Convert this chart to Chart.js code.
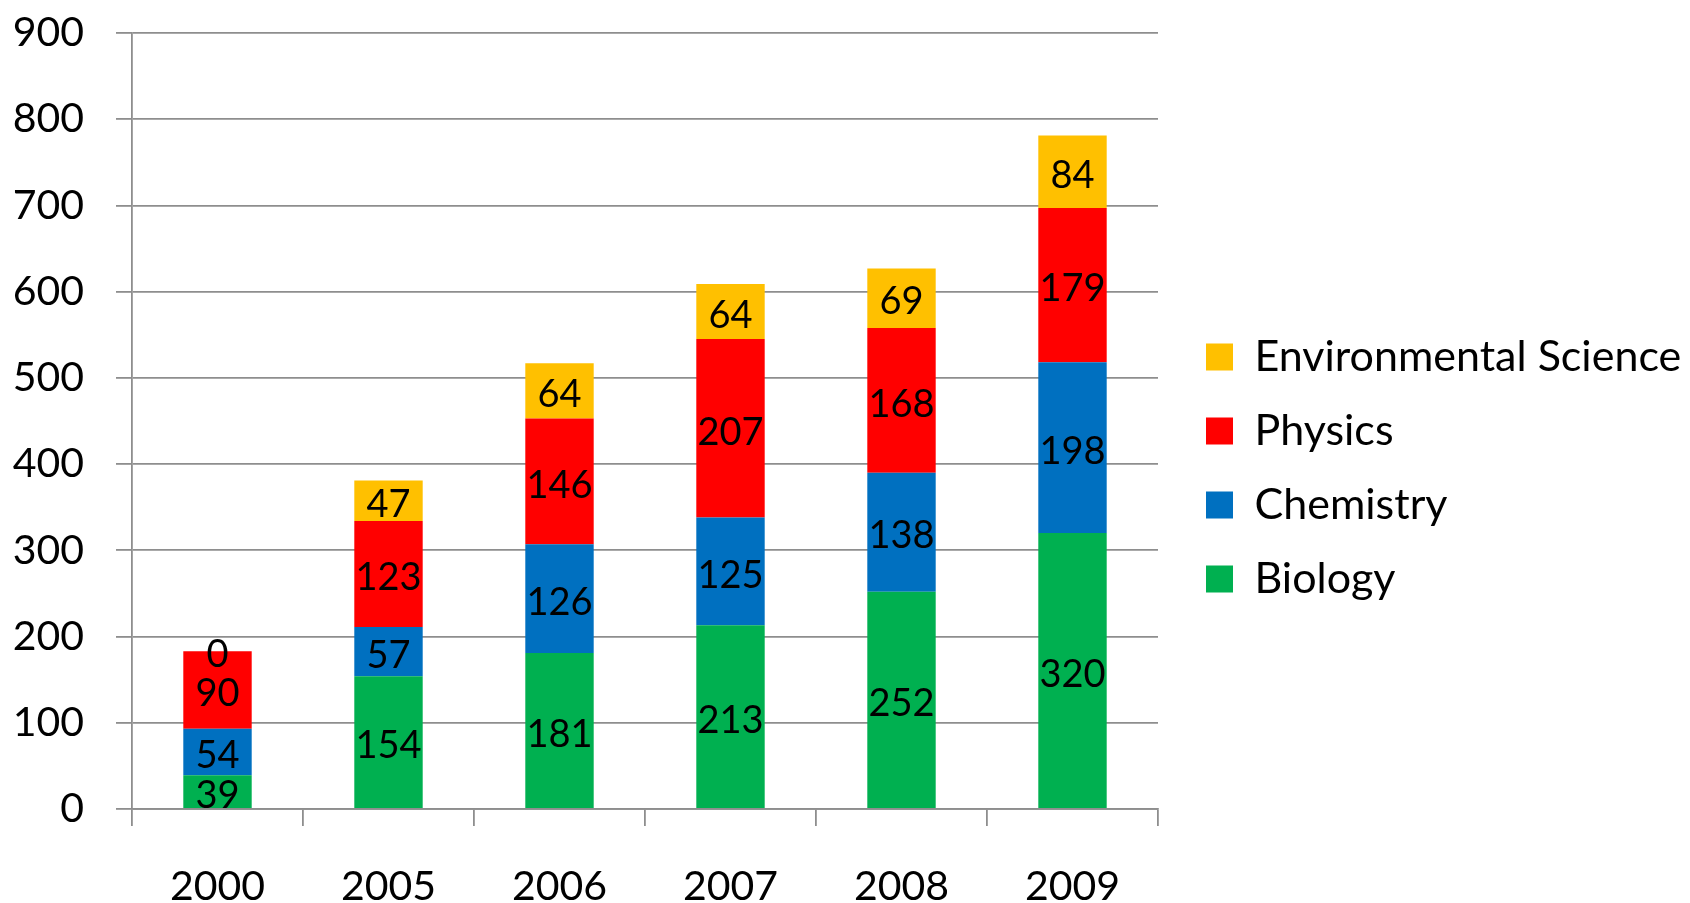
<!DOCTYPE html>
<html><head><meta charset="utf-8">
<script src="https://cdn.jsdelivr.net/npm/chart.js@4"></script>
<style>html,body{margin:0;padding:0;background:#fff}#wrap{width:1690px;height:903px;position:relative}</style>
</head><body><div id="wrap"><canvas id="c" width="1690" height="903"></canvas></div>
<script>
const categories = ['2000', '2005', '2006', '2007', '2008', '2009'];
const biology = [39, 154, 181, 213, 252, 320];
const chemistry = [54, 57, 126, 125, 138, 198];
const physics = [90, 123, 146, 207, 168, 179];
const environmental = [0, 47, 64, 64, 69, 84];
const seriesNames = ['Biology', 'Chemistry', 'Physics', 'Environmental Science'];
const yMin = 0, yMax = 900, yStep = 100;

const FONT = 'Lato';
const GRID = '#8e8e8e';
const LEG_FS = 43, LEG_BOX = 27, LEG_PAD = 31;
const PLOT_RIGHT = 1158, LEG_BOX_X = 1206;
const VAL_FS = 38;

const valueLabels = {
  id: 'valueLabels',
  afterDatasetsDraw(chart) {
    const ctx = chart.ctx;
    ctx.save();
    ctx.font = VAL_FS + 'px ' + FONT;
    ctx.fillStyle = '#000';
    ctx.textAlign = 'center';
    ctx.textBaseline = 'middle';
    chart.data.datasets.forEach((ds, i) => {
      const meta = chart.getDatasetMeta(i);
      meta.data.forEach((el, j) => {
        const y = (el.y + el.base) / 2 + 4;
        ctx.fillText(String(ds.data[j]), el.x, y);
      });
    });
    ctx.restore();
  }
};

const legendPlace = {
  id: 'legendPlace',
  afterLayout(chart) {
    const L = chart.legend;
    const w = L.width;
    L.left = LEG_BOX_X - LEG_PAD;
    L.right = L.left + w;
  }
};

function build() {
  const mctx = document.createElement('canvas').getContext('2d');
  mctx.font = LEG_FS + 'px ' + FONT;
  const textW = Math.max(...seriesNames.map(s => mctx.measureText(s).width));
  const legendW = LEG_PAD + LEG_BOX + LEG_FS / 2 + textW + 10;
  const padRight = Math.max(0, 1690 - PLOT_RIGHT - legendW);

  new Chart(document.getElementById('c'), {
    type: 'bar',
    data: {
      labels: categories,
      datasets: [
        { label: seriesNames[0], data: biology, backgroundColor: '#00B050' },
        { label: seriesNames[1], data: chemistry, backgroundColor: '#0070C0' },
        { label: seriesNames[2], data: physics, backgroundColor: '#FF0000' },
        { label: seriesNames[3], data: environmental, backgroundColor: '#FFC000' }
      ]
    },
    options: {
      responsive: false,
      animation: false,
      devicePixelRatio: 1,
      layout: { padding: { top: 33, left: 0, right: padRight, bottom: 0 } },
      datasets: { bar: { categoryPercentage: 0.4, barPercentage: 1.0 } },
      plugins: {
        legend: {
          position: 'right',
          reverse: true,
          align: 'center',
          maxWidth: 800,
          labels: {
            boxWidth: LEG_BOX, boxHeight: LEG_BOX, padding: LEG_PAD,
            color: '#000',
            font: { family: FONT, size: LEG_FS }
          }
        },
        tooltip: { enabled: false }
      },
      scales: {
        x: {
          stacked: true,
          offset: true,
          grid: { offset: true, drawOnChartArea: false, drawTicks: true, tickLength: 17, color: GRID, lineWidth: 1.8 },
          border: { display: true, color: GRID, width: 1.8 },
          ticks: { color: '#000', font: { family: FONT, size: 41 }, padding: 36, maxRotation: 0 },
          afterFit(scale) { scale.height = 94; }
        },
        y: {
          stacked: true,
          min: yMin, max: yMax,
          grid: { color: GRID, lineWidth: 1.8, tickLength: 16, drawTicks: true },
          border: { display: true, color: GRID, width: 1.8 },
          ticks: { stepSize: yStep, color: '#000', font: { family: FONT, size: 41 }, padding: 32 },
          afterFit(scale) { scale.width = 132; scale.paddingTop = 0; scale.paddingBottom = 0; }
        }
      }
    },
    plugins: [valueLabels, legendPlace]
  });
}

Promise.all([
  document.fonts.load('41px ' + FONT),
  document.fonts.load(LEG_FS + 'px ' + FONT),
  document.fonts.load(VAL_FS + 'px ' + FONT)
]).then(build, build);
</script></body></html>
